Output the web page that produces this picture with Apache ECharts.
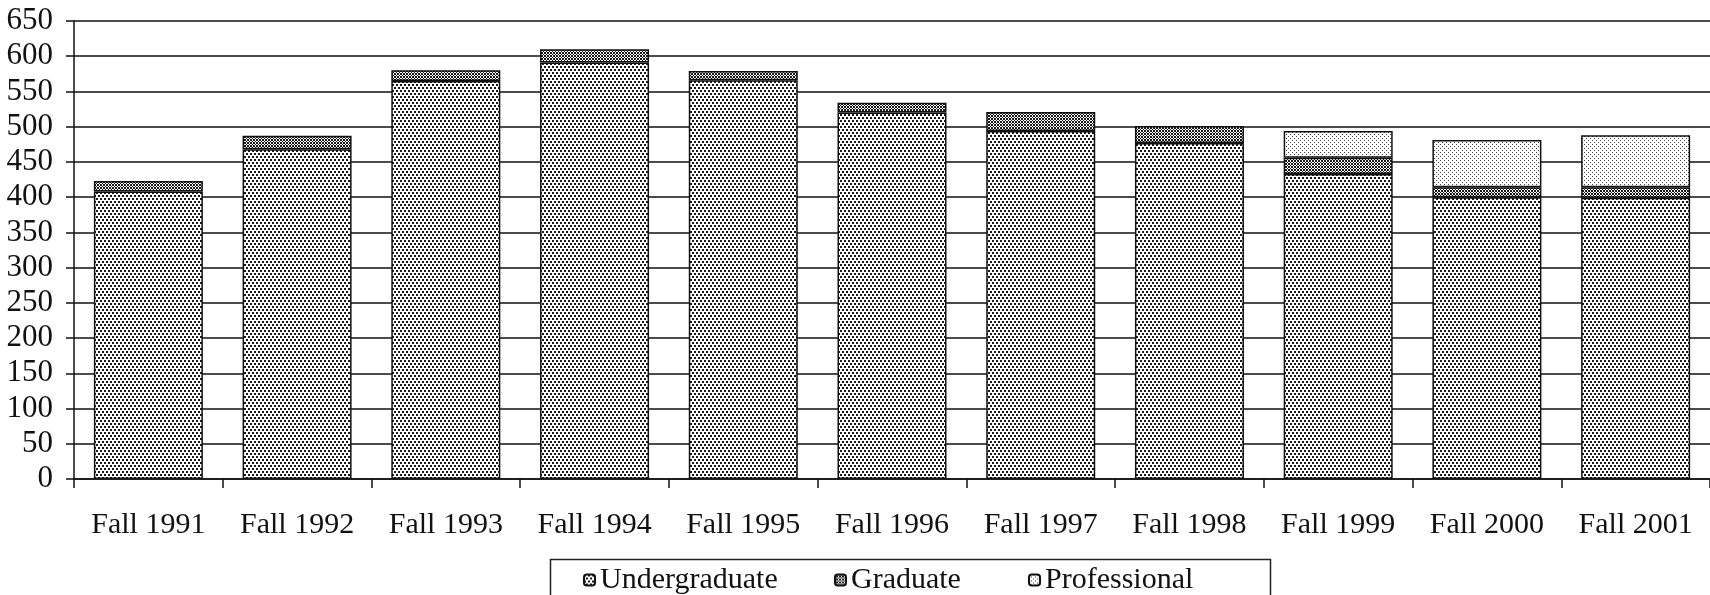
<!DOCTYPE html>
<html>
<head>
<meta charset="utf-8">
<script src="https://cdn.jsdelivr.net/npm/echarts@6/dist/echarts.min.js"></script>
<style>
  html, body { margin: 0; padding: 0; background: #fff; }
  #chart { width: 1710px; height: 595px; }
</style>
</head>
<body>
<div id="chart"></div>
<script>
// enrollment by term
const categories = ['Fall 1991', 'Fall 1992', 'Fall 1993', 'Fall 1994', 'Fall 1995', 'Fall 1996',
  'Fall 1997', 'Fall 1998', 'Fall 1999', 'Fall 2000', 'Fall 2001'];
const undergraduate = [408, 468, 565, 591, 566, 520, 494, 477, 433, 400, 399];
const graduate = [15, 19, 15, 19, 13, 14, 27, 24, 23, 14, 15];
const professional = [null, null, null, null, null, null, null, null, 38, 67, 74];
const seriesNames = ['Undergraduate', 'Graduate', 'Professional'];

// small bitmap fills to mimic the printed hatching
function pattern(w, h, test, ink) {
  const c = document.createElement('canvas');
  c.width = w; c.height = h;
  const ctx = c.getContext('2d');
  ctx.fillStyle = '#fff';
  ctx.fillRect(0, 0, w, h);
  ctx.fillStyle = ink;
  for (let y = 0; y < h; y++) {
    for (let x = 0; x < w; x++) {
      if (test(x, y)) ctx.fillRect(x, y, 1, 1);
    }
  }
  return { image: c, repeat: 'repeat' };
}

const fills = [
  // undergraduate: staggered dark dots
  pattern(4, 6, (x, y) => (x < 2 && y < 2) || (x >= 2 && y >= 3 && y < 5), '#1a1a1a'),
  // graduate: dense cross-hatch
  pattern(3, 3, (x, y) => (x + y) % 3 === 0 || x === y, '#1a1a1a'),
  // professional: light sparse dots
  pattern(4, 4, (x, y) => (x === 0 && y === 0) || (x === 2 && y === 2), '#444')
];

const textFont = '"Liberation Serif", "DejaVu Serif", serif';
const legendLeft = [583, 834, 1028]; // one legend per entry, spaced like the original

const chart = echarts.init(document.getElementById('chart'));

chart.setOption({
  animation: false,
  backgroundColor: '#fff',
  grid: { left: 74, top: 21, width: 1637, bottom: 116, containLabel: false },
  legend: seriesNames.map((n, i) => ({
    data: [n],
    left: legendLeft[i],
    top: 565,
    padding: 0,
    itemWidth: 11,
    itemHeight: 11,
    textStyle: { fontFamily: textFont, fontSize: 30, color: '#111' }
  })),
  // frame around the legend, running off the bottom edge like the scan
  graphic: [{
    type: 'rect',
    left: 548,
    top: 557,
    shape: { width: 720, height: 60 },
    style: { fill: 'none', stroke: '#222', lineWidth: 1.5 }
  }],
  xAxis: {
    type: 'category',
    data: categories,
    axisLine: { lineStyle: { color: '#111', width: 1.5 } },
    axisTick: { show: true, interval: 0, length: 9, lineStyle: { color: '#111', width: 1.5 } },
    axisLabel: { interval: 0, fontFamily: textFont, fontSize: 30, color: '#111', margin: 31 }
  },
  yAxis: {
    type: 'value',
    min: 0,
    max: 650,
    interval: 50,
    axisLine: { show: true, lineStyle: { color: '#111', width: 1.5 } },
    axisTick: { show: true, length: 8, lineStyle: { color: '#111', width: 1.5 } },
    axisLabel: { fontFamily: textFont, fontSize: 31, color: '#111', margin: 21 },
    splitLine: { lineStyle: { color: '#111', width: 1.5 } }
  },
  series: [undergraduate, graduate, professional].map((vals, i) => ({
    name: seriesNames[i],
    type: 'bar',
    stack: 'total',
    barWidth: 109,
    data: vals,
    itemStyle: { color: fills[i], borderColor: '#111', borderWidth: 1.5 }
  }))
});
</script>
</body>
</html>
